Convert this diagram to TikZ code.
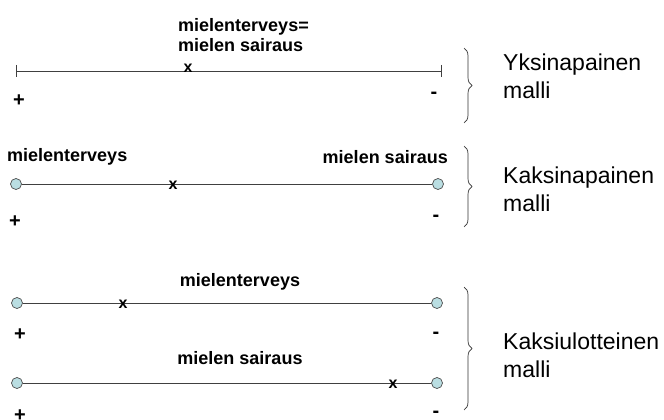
\documentclass[tikz,border=0pt]{standalone}
\usepackage{fontspec}
\setmainfont{Liberation Sans}
\usetikzlibrary{decorations.pathreplacing,calc}
\definecolor{polefill}{RGB}{186,222,226}
\begin{document}
\begin{tikzpicture}[x=1pt,y=-1pt,
  axis/.style={draw=black!75,line width=0.9pt},
  pole/.style={circle,draw=black!70,fill=polefill,line width=0.7pt,minimum size=11pt,inner sep=0pt},
  lbl/.style={font=\fontsize{18}{21}\selectfont\bfseries,inner sep=0pt},
  sign/.style={font=\fontsize{20}{22}\selectfont\bfseries,inner sep=0pt},
  xmark/.style={font=\fontsize{16}{18}\selectfont\bfseries,inner sep=0pt},
  model/.style={font=\fontsize{23}{28}\selectfont,align=left,anchor=west,inner sep=0pt},
  curly/.style={draw=black!80,line width=0.7pt,decorate,decoration={brace,amplitude=8pt,aspect=0.5}}]
\useasboundingbox (0,0) rectangle (664,420);

% single-pole model
\coordinate (a1) at (16,71);
\coordinate (b1) at (441,71);
\draw[axis] (a1) -- (b1);
\draw[axis] ($(a1)+(0,-6)$) -- ($(a1)+(0,6)$);
\draw[axis] ($(b1)+(0,-6)$) -- ($(b1)+(0,6)$);
\node[lbl,anchor=west,align=left] (t1) at (178,35) {mielenterveys=\\[-1pt]mielen sairaus};
\node[xmark] (x1) at (188,68) {x};
\node[sign] (p1) at (19,101) {+};
\node[sign] (m1) at (434,95) {-};
\draw[curly] (464,48) -- (464,123);
\node[model] (n1) at (503,76) {Yksinapainen\\malli};

% bipolar model
\node[pole] (a2) at (16,184) {};
\node[pole] (b2) at (438,184) {};
\draw[axis] (a2) -- (b2);
\node[lbl,anchor=west] (l2) at (7,157) {mielenterveys};
\node[lbl,anchor=east] (r2) at (448,157) {mielen sairaus};
\node[xmark] (x2) at (173,185) {x};
\node[sign] (p2) at (15,222) {+};
\node[sign] (m2) at (436,218) {-};
\draw[curly] (464,146) -- (464,227);
\node[model] (n2) at (503,189) {Kaksinapainen\\malli};

% two-dimensional model
\node[pole] (a3) at (17,303) {};
\node[pole] (b3) at (437,303) {};
\draw[axis] (a3) -- (b3);
\node[lbl] (l3) at (240,282) {mielenterveys};
\node[xmark] (x3) at (123,304) {x};
\node[sign] (p3) at (20,335) {+};
\node[sign] (m3) at (436,335) {-};

\node[pole] (a4) at (17,383) {};
\node[pole] (b4) at (437,383) {};
\draw[axis] (a4) -- (b4);
\node[lbl] (l4) at (240,358) {mielen sairaus};
\node[xmark] (x4) at (393,384) {x};
\node[sign] (p4) at (20,416) {+};
\node[sign] (m4) at (436,414) {-};
\draw[curly] (464,287) -- (464,410);
\node[model] (n3) at (503,355) {Kaksiulotteinen\\malli};
\end{tikzpicture}
\end{document}
